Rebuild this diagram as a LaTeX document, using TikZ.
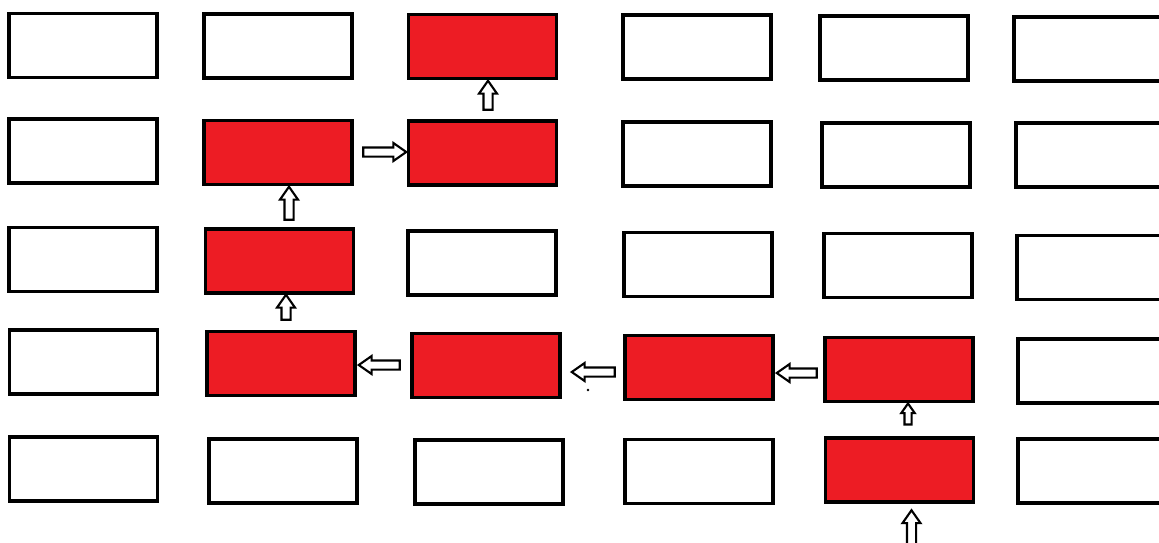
\documentclass[tikz,border=0pt]{standalone}
\usepackage{tikz}
\usetikzlibrary{shapes.arrows}
\definecolor{paintred}{RGB}{237, 28, 36}

\tikzset{
	cell/.style={draw, line width=2.2pt, minimum width=2.96cm,
		minimum height=1.28cm, inner sep=0pt},
	hot/.style={cell, fill=paintred},
	blockarrow/.style={single arrow, draw, fill=white, line width=1.2pt,
		inner sep=0.07cm, single arrow head extend=0.09cm,
		single arrow tip angle=70, minimum height=#1},
}

\begin{document}
\begin{tikzpicture}[x=0.02cm, y=-0.02cm]
				\useasboundingbox (0,0) rectangle (1159,542);
				\clip (0,0) rectangle (1159,542);
				% row 1
				\node[cell] (r1c1) at (83,45.5) {};
				\node[cell] (r1c2) at (278,46) {};
				\node[hot]  (r1c3) at (482.5,46.5) {};
				\node[cell] (r1c4) at (697,47) {};
				\node[cell] (r1c5) at (894,48) {};
				\node[cell] (r1c6) at (1088,49) {};
				% row 2
				\node[cell] (r2c1) at (83,151) {};
				\node[hot]  (r2c2) at (278,152.5) {};
				\node[hot]  (r2c3) at (482.5,153) {};
				\node[cell] (r2c4) at (697,154) {};
				\node[cell] (r2c5) at (896,155) {};
				\node[cell] (r2c6) at (1090,155) {};
				% row 3
				\node[cell] (r3c1) at (83,259.5) {};
				\node[hot]  (r3c2) at (279.5,261) {};
				\node[cell] (r3c3) at (482,263) {};
				\node[cell] (r3c4) at (698,264.5) {};
				\node[cell] (r3c5) at (898,265.5) {};
				\node[cell] (r3c6) at (1091,267.5) {};
				% row 4
				\node[cell] (r4c1) at (83.5,362) {};
				\node[hot]  (r4c2) at (281,363.5) {};
				\node[hot]  (r4c3) at (486,365.5) {};
				\node[hot]  (r4c4) at (699,367.5) {};
				\node[hot]  (r4c5) at (899,369.5) {};
				\node[cell] (r4c6) at (1092,371) {};
				% row 5
				\node[cell] (r5c1) at (83.5,469) {};
				\node[cell] (r5c2) at (283,471) {};
				\node[cell] (r5c3) at (489,472) {};
				\node[cell] (r5c4) at (699,471.5) {};
				\node[hot]  (r5c5) at (899.5,470) {};
				\node[cell] (r5c6) at (1092,471) {};
				% path arrows, from the bottom up
				\node[blockarrow=0.7cm, rotate=90] (a0) at (911.5,531) {};
				\node[blockarrow=0.42cm, rotate=90, inner sep=0.05cm,
				single arrow head extend=0.065cm] (a1) at (908,416.5) {};
				\node[blockarrow=0.8cm, rotate=180] (a2) at (800,373) {};
				\node[blockarrow=0.86cm, rotate=180] (a3) at (596.5,372) {};
				\node[blockarrow=0.82cm, rotate=180] (a4) at (382.5,365) {};
				\node[blockarrow=0.5cm, rotate=90] (a5) at (286,310.5) {};
				\node[blockarrow=0.66cm, rotate=90] (a6) at (289,206.5) {};
				\node[blockarrow=0.86cm] (a7) at (381.5,152) {};
				\node[blockarrow=0.58cm, rotate=90] (a8) at (488,98.5) {};
				% stray dot
				\fill (588,390) circle (1.3);
\end{tikzpicture}
\end{document}
